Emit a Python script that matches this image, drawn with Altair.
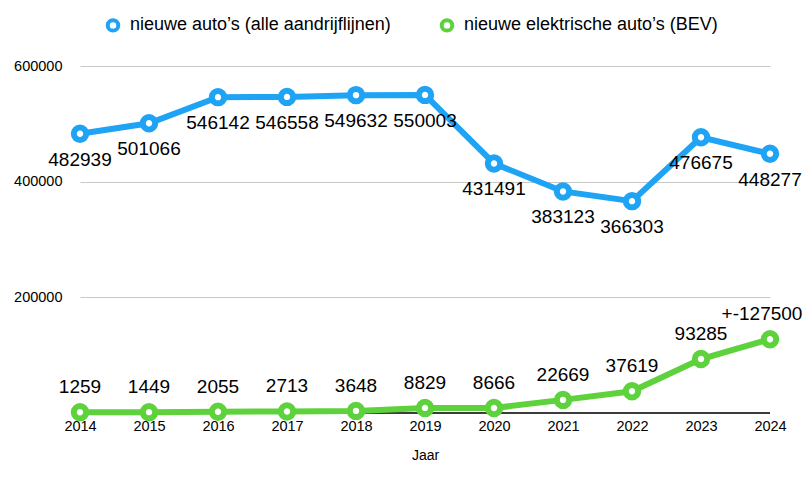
import altair as alt
import pandas as pd

years = [2014, 2015, 2016, 2017, 2018, 2019, 2020, 2021, 2022, 2023, 2024]
total_cars = [482939, 501066, 546142, 546558, 549632, 550003, 431491, 383123, 366303, 476675, 448277]
bev_cars = [1259, 1449, 2055, 2713, 3648, 8829, 8666, 22669, 37619, 93285, 127500]
total_labels = [str(v) for v in total_cars]
bev_labels = ["1259", "1449", "2055", "2713", "3648", "8829", "8666", "22669", "37619", "93285", "+-127500"]
series_names = ["nieuwe auto\u2019s (alle aandrijflijnen)", "nieuwe elektrische auto\u2019s (BEV)"]
series_colors = ["#1fa3f5", "#5ed23c"]
y_ticks = [200000, 400000, 600000]

rows = []
for y, v, l in zip(years, total_cars, total_labels):
    rows.append({"jaar": y, "waarde": v, "label": l, "serie": series_names[0]})
for y, v, l in zip(years, bev_cars, bev_labels):
    rows.append({"jaar": y, "waarde": v, "label": l, "serie": series_names[1]})
df = pd.DataFrame(rows)

FONT = "Liberation Sans"

x_enc = alt.X("jaar:Q", title="Jaar",
              scale=alt.Scale(domain=[years[0], years[-1]], nice=False, zero=False),
              axis=alt.Axis(values=years, format="d", grid=False, domain=False, ticks=False,
                            tickSize=0, labelPadding=6, labelFontSize=14.5, labelColor="#000",
                            labelFlush=False, labelOverlap=False,
                            labelFont=FONT, titleFont=FONT, titleFontSize=14, titleFontWeight="normal",
                            titleColor="#000", titlePadding=16))
y_enc = alt.Y("waarde:Q", title=None,
              scale=alt.Scale(domain=[0, 600000], nice=False),
              axis=alt.Axis(values=y_ticks, format="d", grid=True, gridColor="#c8c8c8", gridWidth=1,
                            domain=False, ticks=False, tickSize=0, labelPadding=18, labelAlign="right",
                            labelFontSize=14.5, labelColor="#000", labelFont=FONT))

legend = alt.Legend(title=None, orient="none", legendX=24, legendY=-50,
                    direction="horizontal", labelFontSize=18, labelFont=FONT, labelLimit=0,
                    labelColor="#000", symbolType="circle", symbolSize=110,
                    symbolStrokeWidth=4, symbolFillColor="white", symbolOpacity=1,
                    labelOffset=8, columnPadding=42, padding=0)
color_enc = alt.Color("serie:N", scale=alt.Scale(domain=series_names, range=series_colors),
                      legend=legend)

base = alt.Chart(df)

rule = alt.Chart(df).mark_rule(color="#3c3c3c", strokeWidth=2).encode(y=alt.datum(0))

lines = base.mark_line(strokeWidth=6).encode(x=x_enc, y=y_enc, color=color_enc)

points = base.mark_point(filled=False, fill="white", fillOpacity=1, opacity=1, shape="circle",
                         size=154, strokeWidth=6).encode(x=x_enc, y=y_enc, color=color_enc)

text_total = base.transform_filter(alt.datum.serie == series_names[0]).mark_text(
    fontSize=19, font=FONT, color="#000", dy=26, baseline="middle").encode(
    x=x_enc, y=y_enc, text="label:N")

text_bev = base.transform_filter(
    (alt.datum.serie == series_names[1]) & (alt.datum.jaar < years[-1])).mark_text(
    fontSize=19, font=FONT, color="#000", dy=-25, baseline="middle").encode(
    x=x_enc, y=y_enc, text="label:N")

text_bev_last = base.transform_filter(
    (alt.datum.serie == series_names[1]) & (alt.datum.jaar == years[-1])).mark_text(
    fontSize=19, font=FONT, color="#000", dy=-25, dx=-8, baseline="middle").encode(
    x=x_enc, y=y_enc, text="label:N")

chart = alt.layer(rule, lines, points, text_total, text_bev, text_bev_last).properties(
    width=690, height=347,
    autosize=alt.AutoSizeParams(type="none"),
    padding={"left": 72, "top": 58, "right": 34, "bottom": 56},
).configure_view(strokeWidth=0)

chart.save("out.html", embed_options={"renderer": "svg", "actions": False})
